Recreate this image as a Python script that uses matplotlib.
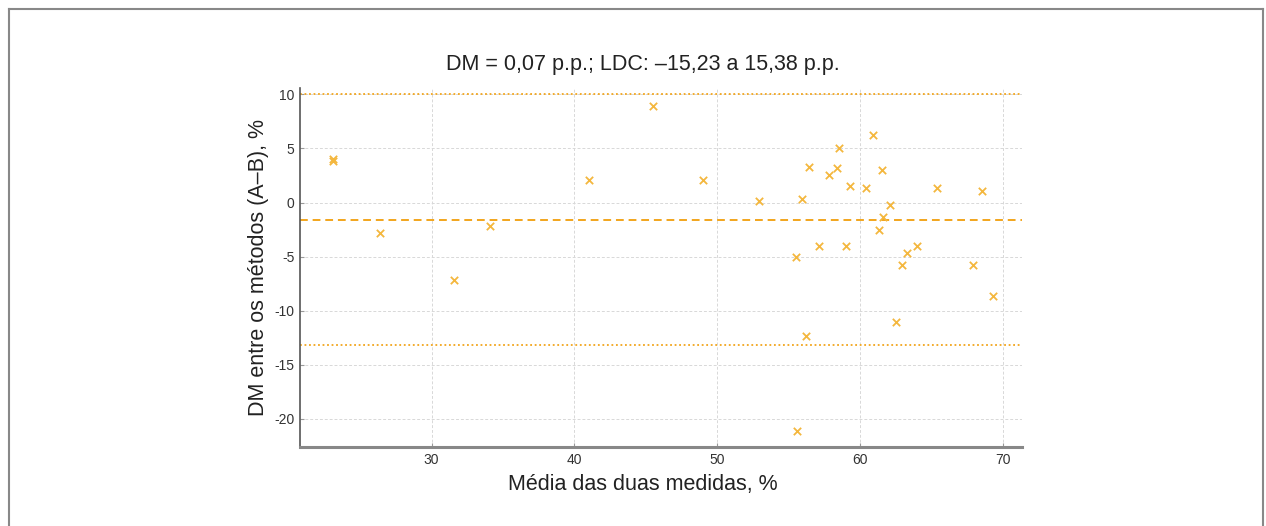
# Bland-Altman plot: diferenca entre metodos vs media

import numpy as np
import matplotlib.pyplot as plt
from matplotlib.lines import Line2D

plt.rcParams['axes.unicode_minus'] = False

# media das duas medidas (%)
media = [23.1, 23.1, 26.4, 31.6, 34.1, 41.0, 45.5, 49.0, 52.9, 55.5,
         55.6, 55.9, 56.2, 56.4, 57.1, 57.8, 58.4, 58.5, 59.0, 59.3,
         60.4, 60.9, 61.3, 61.5, 61.6, 62.1, 62.5, 62.9, 63.3, 64.0,
         65.4, 67.9, 68.5, 69.3]
# diferenca entre os metodos (A-B)
dif = [4.0, 3.8, -2.8, -7.2, -2.2, 2.1, 8.9, 2.1, 0.1, -5.0,
       -21.1, 0.3, -12.3, 3.3, -4.0, 2.5, 3.2, 5.0, -4.0, 1.5,
       1.3, 6.2, -2.5, 3.0, -1.3, -0.2, -11.0, -5.8, -4.7, -4.0,
       1.3, -5.8, 1.1, -8.6]

dm = -1.57
lim_sup = 10.0
lim_inf = -13.18

cor_ponto = '#F4B73E'
cor_linha = '#F2A51C'
fonte = ['Liberation Sans', 'DejaVu Sans']

fig = plt.figure(figsize=(12.66, 5.26), dpi=100)
ax = fig.add_axes([0.237, 0.150, 0.570, 0.683])

ax.scatter(media, dif, marker='x', s=28, color=cor_ponto, linewidths=1.3, zorder=3)
ax.axhline(dm, color=cor_linha, ls=(0, (4, 2.5)), lw=1.4, zorder=2)
ax.axhline(lim_sup, color=cor_linha, ls=(0, (1, 1.5)), lw=1.3, zorder=2)
ax.axhline(lim_inf, color=cor_linha, ls=(0, (1, 1.5)), lw=1.3, zorder=2)

ax.set_xlim(20.8, 71.3)
ax.set_ylim(-22.6, 10.6)
ax.set_xticks([30, 40, 50, 60, 70])
ax.set_yticks([-20, -15, -10, -5, 0, 5, 10])
ax.grid(True, color='#d8d8d8', ls=(0, (3, 2)), lw=0.7)
ax.set_axisbelow(True)

for s in ['top', 'right']:
    ax.spines[s].set_visible(False)
ax.spines['left'].set_color('#555555')
ax.spines['left'].set_linewidth(1.2)
ax.spines['bottom'].set_color('#888888')
ax.spines['bottom'].set_linewidth(2.2)
ax.tick_params(direction='in', length=3, width=0.8, color='#999999', pad=4,
               labelsize=10, labelcolor='#333333')
for lab in ax.get_xticklabels() + ax.get_yticklabels():
    lab.set_family(fonte)

ax.set_title('DM = 0,07 p.p.; LDC: \u201315,23 a 15,38 p.p.', family=fonte,
             fontsize=15.5, color='#222222', x=0.475, pad=13)
ax.set_xlabel('Média das duas medidas, %', family=fonte, fontsize=15.5,
              color='#222222')
ax.xaxis.set_label_coords(0.475, -0.075)
ax.set_ylabel('DM entre os métodos (A\u2013B), %', family=fonte,
              fontsize=15.5, color='#222222', labelpad=4)

# moldura da figura (sem borda inferior)
W, H = 1266, 526
x0, x1, y0 = 8.5 / W, 1262.5 / W, 1 - 8.5 / H
for xs, ys in [([x0, x0], [0, y0]), ([x0, x1], [y0, y0]), ([x1, x1], [y0, 0])]:
    fig.add_artist(Line2D(xs, ys, transform=fig.transFigure, color='#888888', lw=1.5))

fig.savefig('out.png', dpi=100)
